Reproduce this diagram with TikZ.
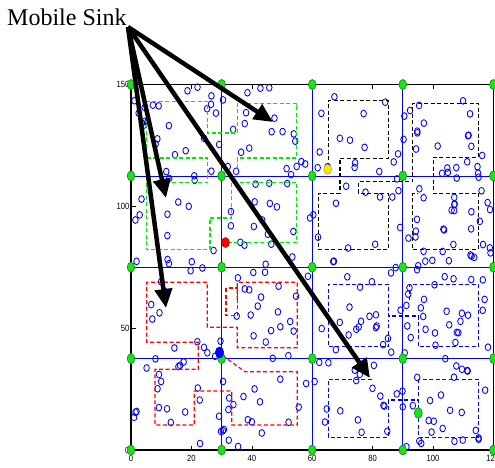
\documentclass[tikz,border=0pt]{standalone}
\usepackage{fontspec}
\setmainfont{Liberation Serif}
\newfontfamily\axisfont[FakeStretch=0.85]{Liberation Sans}
\usetikzlibrary{arrows.meta}
\definecolor{gwfill}{RGB}{30,225,30}
\definecolor{gwedge}{RGB}{0,140,0}
\definecolor{zgreen}{RGB}{0,235,0}
\begin{document}
\begin{tikzpicture}[x=1pt,y=-1pt,
  sensor/.style={draw=blue, line width=0.85pt},
  gridln/.style={draw=blue, line width=0.8pt},
  axisln/.style={draw=black, line width=1.8pt},
  topln/.style={draw=black, line width=1.1pt},
  zone/.style={dash pattern=on 4pt off 2.5pt, line width=1.2pt},
  gw/.style={fill=gwfill, draw=gwedge, line width=0.6pt},
  tickln/.style={draw=black, line width=0.6pt},
  ticklbl/.style={font=\axisfont\fontsize{9}{10}\selectfont, inner sep=0pt},
  sinkarrow/.style={draw=black, line width=4.5pt, -{Triangle[length=19pt,width=17pt]}},
  title/.style={font=\fontsize{24}{28}\selectfont, inner sep=0pt, anchor=base west}
]
\useasboundingbox (0,0) rectangle (495,467);

% random sensor nodes
\pgfmathsetseed{4711}
\foreach \i in {1,...,330}{
  \pgfmathsetmacro\cx{133+rnd*358}
  \pgfmathsetmacro\cy{87+rnd*360}
  \draw[sensor] (\cx,\cy) ellipse [x radius=2.8pt, y radius=3.4pt];
}

% grid lines
\foreach \gx in {221.6,312.2,402.8}{\draw[gridln] (\gx,84.5) -- (\gx,450);}
\foreach \gy in {175.9,267.2,358.6}{\draw[gridln] (131,\gy) -- (493.4,\gy);}

% axes box
\draw[topln] (131,84.5) -- (493.4,84.5) -- (493.4,450);
\draw[axisln] (131,84.5) -- (131,450) -- (493.4,450);

% ticks
\foreach \tx in {191.4,251.8,312.2,372.6,433}{
  \draw[tickln] (\tx,450) -- (\tx,445.5);
  \draw[tickln] (\tx,84.5) -- (\tx,89);
}
\foreach \ty in {206.3,328.1}{\draw[tickln] (131,\ty) -- (135.5,\ty);}

% tick labels
\foreach \v/\tx in {0/131,20/191.4,40/251.8,60/312.2,80/372.6,100/433}{
  \node[ticklbl, anchor=north] (lx\v) at (\tx,455) {\v};
}
\node[ticklbl, anchor=north west] (lx120) at (486.2,455) {12};
\foreach \v/\ty in {0/450,50/328.1,100/206.3,150/84.5}{
  \node[ticklbl, anchor=east] (ly\v) at (129.5,\ty) {\v};
}

% green zones
\draw[zone, draw=zgreen] (237.3,168) -- (237.3,158) -- (296.7,158) -- (296.7,103.7) -- (237.3,103.7) -- (237.3,133) -- (207.7,133) -- (207.7,101.3) -- (146.7,101.3) -- (146.7,249.7) -- (210,249.7) -- (210,218) -- (231.7,218) -- (231.7,182.3) -- (296.7,182.3) -- (296.7,242.3) -- (226.7,242.3);
\draw[zone, draw=zgreen] (146.7,158) -- (207.7,158) -- (207.7,182.3) -- (146.7,182.3);

% red zones
\draw[zone, draw=red] (237.3,300) -- (237.3,282.3) -- (297.3,282.3) -- (297.3,347.7) -- (237.3,347.7) -- (237.3,327.3) -- (207.3,327.3) -- (207.3,282.3) -- (146.7,282.3) -- (146.7,342.3) -- (198.3,342.3) -- (198.3,369.3) -- (155,369.3) -- (155,425) -- (194.3,425) -- (194.3,391) -- (231.7,391) -- (231.7,425) -- (297.3,425) -- (297.3,371.7) -- (245,371.7) -- (223.3,356);
\draw[zone, draw=red] (226,288) rectangle (237.3,315.7);

% blue zones
\draw[zone, draw=blue] (409.3,300) -- (409.3,284.3) -- (478.3,284.3) -- (478.3,346.7) -- (418.3,346.7) -- (418.3,316) -- (388.3,316) -- (388.3,284.3) -- (328.3,284.3) -- (328.3,346.7) -- (388.3,346.7) -- (388.3,320);
\draw[zone, draw=blue] (371.7,379.3) -- (328.3,379.3) -- (328.3,437.3) -- (388.3,437.3) -- (388.3,400) -- (418.3,400);
\draw[zone, draw=blue] (418.3,379.3) rectangle (478.3,437.3);

% black zones
\draw[zone, draw=black] (328.3,166.7) -- (328.3,100.7) -- (388.3,100.7) -- (388.3,158.3) -- (340,158.3) -- (340,193.3) -- (318.3,193.3) -- (318.3,249.3) -- (388.3,249.3) -- (388.3,193.3) -- (358.3,193.3) -- (358.3,181.7) -- (412.7,181.7) -- (412.7,103.3) -- (478.3,103.3) -- (478.3,157.3) -- (433.3,157.3) -- (433.3,193.3) -- (478.3,193.3) -- (478.3,249.3) -- (412.7,249.3) -- (412.7,193.3) -- (418,193.3);

% gateway nodes at grid intersections
\foreach \gx in {131,221.6,312.2,402.8,493.4}{
  \foreach \gy in {84.5,175.9,267.2,358.6,450}{
    \draw[gw] (\gx,\gy) ellipse [x radius=3.8pt, y radius=5pt];
  }
}

% special nodes
\draw[fill=yellow!90!orange, draw=yellow!60!black, line width=0.5pt] (327.7,169.3) ellipse [x radius=4pt, y radius=5pt];
\draw[fill=red, draw=red!70!black, line width=0.5pt] (225.5,242.5) ellipse [x radius=4pt, y radius=5pt];
\draw[fill=blue, draw=blue!70!black, line width=0.5pt] (219.5,352.5) ellipse [x radius=4.2pt, y radius=5.5pt];
\draw[gw] (418.3,413) ellipse [x radius=4pt, y radius=5.3pt];

% Mobile Sink label and arrows
\node[title] (sink) at (7,25) {Mobile Sink};
\coordinate (apex) at (128,27);
\coordinate (t1) at (273,122);
\coordinate (t2) at (166,198);
\coordinate (t3) at (166,308);
\coordinate (t4) at (370,378);
\draw[sinkarrow] (apex) -- (t1);
\draw[sinkarrow] (apex) -- (t2);
\draw[sinkarrow] (apex) -- (t3);
\draw[sinkarrow] (apex) -- (t4);
\end{tikzpicture}
\end{document}
